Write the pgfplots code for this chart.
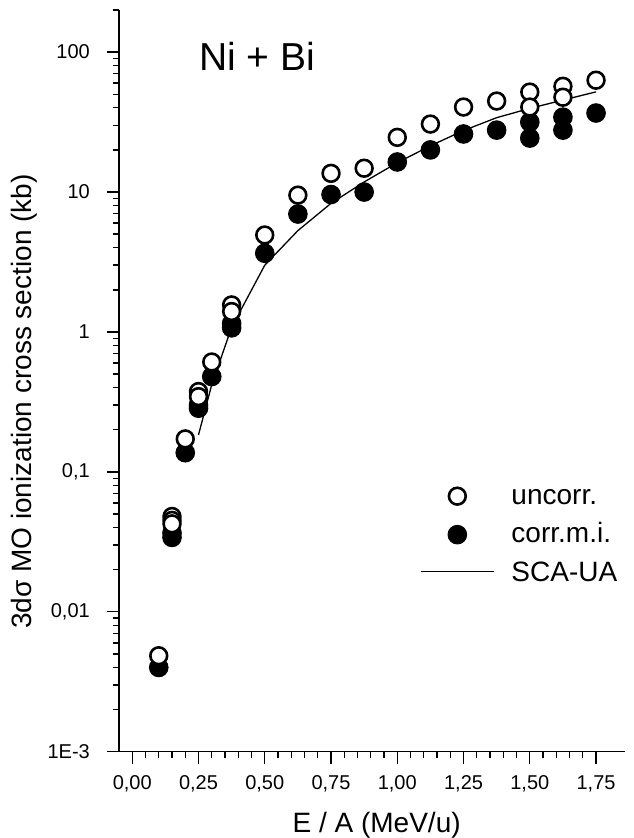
\documentclass[border=0pt]{standalone}
\usepackage{fontspec}
\setmainfont{Liberation Sans}
\usepackage{pgfplots}
\pgfplotsset{compat=1.18}
\pgfplotsset{lineleg/.style={legend image code/.code={\draw[##1] (0pt,10pt) -- (73pt,10pt);}}}
\begin{document}
\begin{tikzpicture}
\useasboundingbox (-119pt,-86.3pt) rectangle (515pt,751.7pt);
\begin{axis}[
  scale only axis, width=506.2pt, height=741.7pt,
  xmin=-0.05, xmax=1.86,
  ymode=log, ymin=1e-3, ymax=200,
  axis lines=left,
  axis line style={-, line width=1.5pt, black},
  tick align=outside,
  major tick length=12pt, minor tick length=6pt,
  tick style={line width=1.4pt, black},
  xtick={0,0.25,0.5,0.75,1,1.25,1.5,1.75},
  xticklabels={{0,00},{0,25},{0,50},{0,75},{1,00},{1,25},{1,50},{1,75}},
  minor x tick num=4,
  ytick={1e-3,1e-2,0.1,1,10,100},
  yticklabels={1E-3,{0,01},{0,1},1,10,100},
  minor ytick={2e-3,3e-3,4e-3,5e-3,6e-3,7e-3,8e-3,9e-3,
               2e-2,3e-2,4e-2,5e-2,6e-2,7e-2,8e-2,9e-2,
               0.2,0.3,0.4,0.5,0.6,0.7,0.8,0.9,
               2,3,4,5,6,7,8,9,
               20,30,40,50,60,70,80,90,200},
  xticklabel style={font=\fontsize{20}{24}\selectfont, anchor=north, inner sep=0pt, text height=14.4pt},
  yticklabel style={font=\fontsize{20}{24}\selectfont, anchor=east, inner sep=0pt},
  xticklabel shift=11.5pt,
  yticklabel shift=17pt,
  xlabel={E / A (MeV/u)},
  ylabel={3dσ MO ionization cross section (kb)},
  label style={font=\fontsize{28}{34}\selectfont},
  xlabel style={at={(rel axis cs:0.509,-0.1085)}, anchor=base},
  ylabel style={at={(rel axis cs:-0.1725,0.472)}, anchor=base},
  legend style={at={(rel axis cs:0.5946,0.361)}, anchor=north west, draw=none, fill=none,
    inner sep=0pt, font=\fontsize{28}{34}\selectfont, row sep=12.5pt, column sep=17pt,
    nodes={inner sep=0pt, text height=20pt, text depth=6pt}},
  legend cell align=left,
  legend style={cells={anchor=base west}},
  legend image code/.code={\draw[mark repeat=2,mark phase=2,#1] plot coordinates {(0pt,8pt) (36.5pt,8pt) (73pt,8pt)};},
  clip=false,
]
\addlegendimage{only marks, mark=*, mark size=8.4pt, mark options={fill=white, draw=black, line width=2.6pt}}
\addlegendentry{uncorr.}
\addlegendimage{only marks, mark=*, mark size=9.3pt, mark options={fill=black, draw=black, line width=1pt}}
\addlegendentry{corr.m.i.}
\addlegendimage{black, line width=1.3pt, mark=none, lineleg}
\addlegendentry{SCA-UA}

% corr.m.i. (filled)
\addplot[forget plot, only marks, mark=*, mark size=9.3pt, mark options={fill=black, draw=black, line width=1pt}]
coordinates {
(0.1,0.0040) (0.15,0.0366) (0.15,0.034) (0.2,0.137)
(0.25,0.30) (0.25,0.285) (0.3,0.48) (0.375,1.15) (0.375,1.07)
(0.5,3.65) (0.625,6.96) (0.75,9.6) (0.875,10.0) (1.0,16.4)
(1.125,20.0) (1.25,26.0) (1.375,27.7) (1.5,31.6) (1.5,24.3)
(1.625,34.3) (1.625,27.7) (1.75,36.7)
};
% uncorr. (open)
\addplot[forget plot, only marks, mark=*, mark size=8.4pt, mark options={fill=white, draw=black, line width=2.6pt}]
coordinates {
(0.1,0.00485) (0.15,0.048) (0.15,0.045) (0.15,0.0425) (0.2,0.172)
(0.25,0.375) (0.25,0.345) (0.3,0.61) (0.375,1.56) (0.375,1.40)
(0.5,4.93) (0.625,9.5) (0.75,13.6) (0.875,14.8) (1.0,24.6)
(1.125,30.6) (1.25,40.5) (1.375,44.7) (1.5,51.8) (1.5,40.5)
(1.625,57) (1.625,47.6) (1.75,63)
};
% SCA-UA
\addplot[forget plot, black, line width=1.3pt, mark=none]
coordinates {
(0.25,0.184) (0.30,0.42) (0.375,1.08) (0.5,3.0) (0.625,5.3)
(0.75,8.3) (0.875,11.8) (1.0,16.2) (1.125,21.4) (1.25,27.5)
(1.375,34.0) (1.5,39.6) (1.625,45.4) (1.75,52)
};
\node[anchor=base, font=\fontsize{39}{46}\selectfont] at (rel axis cs:0.2726,0.9184) {Ni + Bi};
\end{axis}
\end{tikzpicture}
\end{document}
